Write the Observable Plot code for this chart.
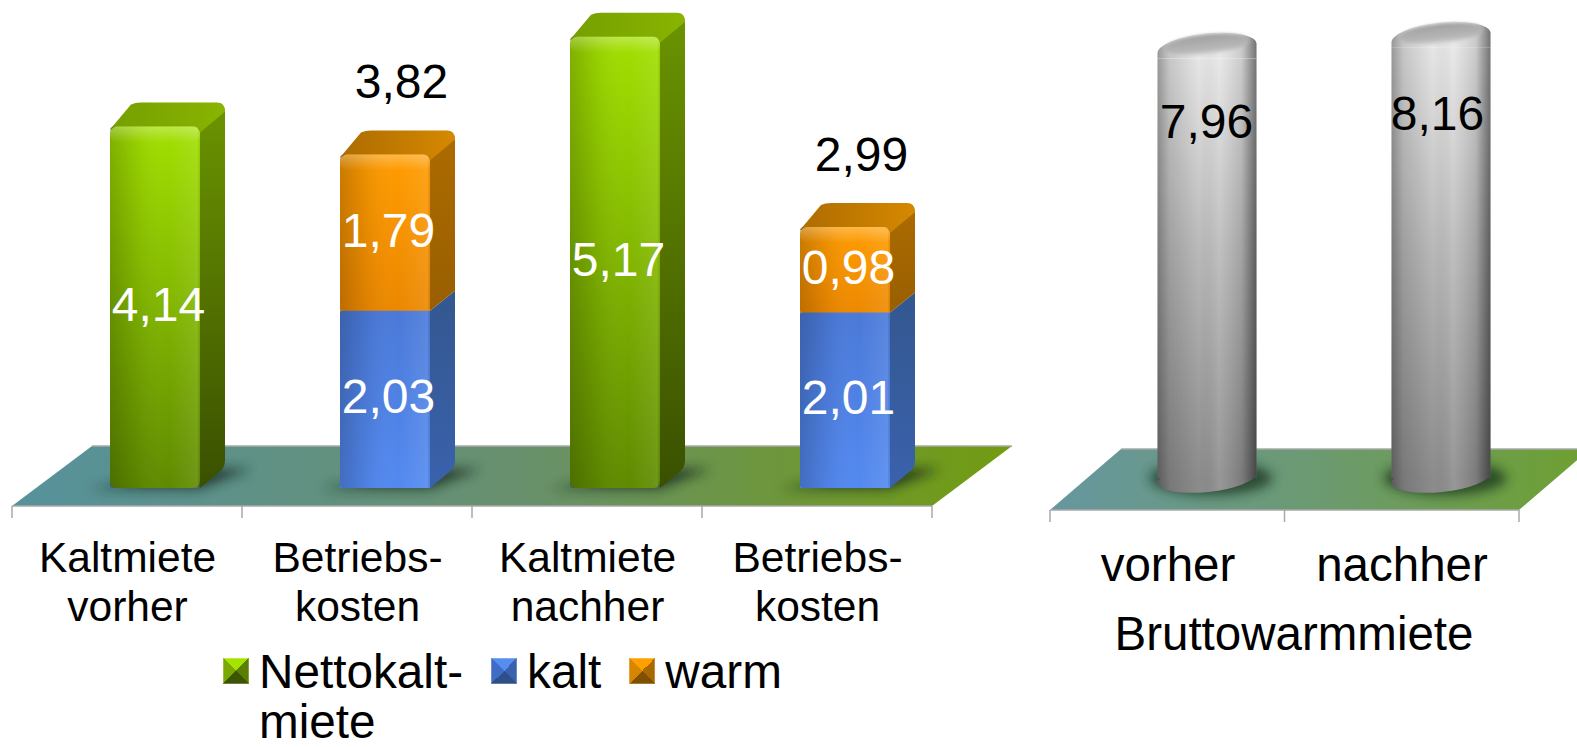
<!DOCTYPE html>
<html lang="de">
<head>
<meta charset="utf-8">
<script src="https://cdn.jsdelivr.net/npm/d3@7"></script>
<script src="https://cdn.jsdelivr.net/npm/@observablehq/plot@0.6"></script>
<style>
html,body{margin:0;padding:0;background:#fff;overflow:hidden}
#page{position:relative;width:1577px;height:747px;font-family:"Liberation Sans",Arial,sans-serif}
#page svg.chart{position:absolute;top:0;overflow:visible;background:none}
#legend{position:absolute;left:223px;top:647px;display:flex;gap:28px;font-size:47.7px;line-height:50px;color:#000}
#legend .item{display:flex;align-items:flex-start}
#legend .sw{width:26px;height:26px;margin:11px 10px 0 0;flex:none;box-shadow:inset 0 0 0 1px rgba(255,255,255,.25)}
</style>
</head>
<body>
<div id="page">
<svg width="0" height="0" style="position:absolute">
<defs id="defs"></defs>
</svg>
<div id="legend"></div>
</div>
<script>
// ---------- data ----------
const rentKeys = ["Kaltmiete vorher", "Betriebskosten vorher", "Kaltmiete nachher", "Betriebskosten nachher"];
const rentTicks = ["Kaltmiete\nvorher", "Betriebs-\nkosten", "Kaltmiete\nnachher", "Betriebs-\nkosten"];
const nettokaltmiete = [4.14, null, 5.17, null];
const kalt = [null, 2.03, null, 2.01];
const warm = [null, 1.79, null, 0.98];
const totals = [null, 3.82, null, 2.99];
const grossKeys = ["vorher", "nachher"];
const bruttowarmmiete = [7.96, 8.16];
const legendNames = ["Nettokalt-\nmiete", "kalt", "warm"];
const fmt = v => v.toFixed(2).replace(".", ",");

// ---------- derived rows ----------
const segs = [];
rentKeys.forEach((key, i) => {
  if (nettokaltmiete[i] != null) segs.push({key, series: "green", v: nettokaltmiete[i], y1: 0, y2: nettokaltmiete[i], top: true});
  if (kalt[i] != null) {
    segs.push({key, series: "blue", v: kalt[i], y1: 0, y2: kalt[i], top: false});
    segs.push({key, series: "orange", v: warm[i], y1: kalt[i], y2: totals[i], top: true});
  }
});
const totalRows = rentKeys.map((key, i) => ({key, v: totals[i]})).filter(d => d.v != null);
const grossRows = grossKeys.map((key, i) => ({key, v: bruttowarmmiete[i]}));

// ---------- gradients ----------
function lin(id, dir, stops) {
  const [x2, y2] = dir === "h" ? [1, 0] : dir === "d" ? [1, 1] : [0, 1];
  return `<linearGradient id="${id}" x1="0" y1="0" x2="${x2}" y2="${y2}">` +
    stops.map(([o, c, a]) => `<stop offset="${o}" stop-color="${c}"${a != null ? ` stop-opacity="${a}"` : ""}/>`).join("") +
    `</linearGradient>`;
}
document.getElementById("defs").innerHTML = [
  lin("greenFront", "v", [[0, "#a2e000"], [1, "#5f8a00"]]),
  lin("greenSide", "v", [[0, "#6b9400"], [1, "#3a5000"]]),
  lin("greenTop", "h", [[0, "#749f00"], [1, "#8ab400"]]),
  lin("blueFront", "v", [[0, "#4a79d8"], [1, "#5389f0"]]),
  lin("blueSide", "v", [[0, "#33578f"], [1, "#3a62ac"]]),
  lin("orangeFront", "v", [[0, "#ff9c00"], [1, "#ea8600"]]),
  lin("orangeSide", "v", [[0, "#ad6c00"], [1, "#985e00"]]),
  lin("orangeTop", "h", [[0, "#ad6c00"], [1, "#d68800"]]),
  lin("sheen", "h", [[0, "#000", .2], [.3, "#000", .06], [.65, "#fff", 0], [.93, "#fff", .08], [.97, "#fff", .1], [1, "#000", .05]]),
  lin("bevel", "v", [[0, "#fff", .28], [1, "#fff", 0]]),
  lin("floorA", "h", [[0, "#56929c"], [.5, "#68906e"], [1, "#729c10"]]),
  lin("floorB", "h", [[0, "#66979f"], [.5, "#6c9a70"], [1, "#6ea030"]]),
  lin("cylBody", "v", [[0, "#e6e6e6"], [.45, "#bababa"], [1, "#8c8c8c"]]),
  lin("cylSheen", "h", [[0, "#000", .34], [.12, "#000", .14], [.42, "#000", 0], [.62, "#fff", .1], [.85, "#000", .12], [1, "#000", .5]]),
  lin("cylCap", "v", [[0, "#a0a0a0"], [.75, "#b8b8b8"], [1, "#d9d9d9"]]),
  `<filter id="blur6" x="-40%" y="-80%" width="180%" height="260%"><feGaussianBlur stdDeviation="6"/></filter>`,
  `<filter id="blur2" x="-20%" y="-40%" width="140%" height="180%"><feGaussianBlur stdDeviation="1.6"/></filter>`
].join("");

const NS = "http://www.w3.org/2000/svg";
const el = (name, attrs, parent) => {
  const n = document.createElementNS(NS, name);
  for (const k in attrs) n.setAttribute(k, attrs[k]);
  if (parent) parent.appendChild(n);
  return n;
};

// floor plate and tick marks drawn from the x scale's range and the y scale's zero
function floorMark({front, depthX, depthY, fill, ticks}) {
  return (index, {x, y}) => {
    const g = el("g", {});
    const [a, b] = x.range();
    const yf = y(0) + front, yb = yf - depthY;
    el("path", {d: `M${a},${yf}L${a + depthX},${yb}L${b + depthX},${yb}L${b},${yf}Z`, fill: `url(#${fill})`}, g);
    el("path", {d: `M${a},${yf}L${b},${yf}M${a + depthX},${yb}L${b + depthX},${yb}`, stroke: "#a9a9a9", "stroke-width": 1.5, fill: "none"}, g);
    const step = (b - a) / ticks;
    for (let i = 0; i <= ticks; ++i)
      el("line", {x1: a + i * step, x2: a + i * step, y1: yf, y2: yf + 12, stroke: "#a9a9a9", "stroke-width": 1.5}, g);
    return g;
  };
}

// side and top faces of the stacked boxes
const rentDx = 28, boxDx = 25, boxDy = 20, R = 7;
function boxFaces(index, {x, y}) {
  const g = el("g", {});
  const w = x.bandwidth();
  // shadows
  for (const key of rentKeys) {
    const x0 = x(key) + rentDx, x1 = x0 + w, yb = y(0);
    el("path", {d: `M${x0 - 20},${yb + 1}L${x1},${yb + 1}L${x1 + boxDx + 26},${yb - boxDy + 1}L${x1},${yb - boxDy}Z`, fill: "#12261a", opacity: .75, filter: "url(#blur6)"}, g);
  }
  for (const s of segs) {
    const x0 = x(s.key) + rentDx, x1 = x0 + w, yt = y(s.y2), yb = y(s.y1);
    const bx = x1 + boxDx, tb = yt - boxDy - 4;
    const bottom = s.y1 === 0
      ? `L${bx},${yb - boxDy - R}Q${bx},${yb - boxDy} ${bx - R},${yb - boxDy + 5}L${x1},${yb}`
      : `L${bx},${yb - boxDy}L${x1},${yb}`;
    if (s.top) {
      el("path", {d: `M${x1},${yt}L${bx - R},${tb + 1}Q${bx},${tb + 2} ${bx},${tb + 10}${bottom}Z`, fill: `url(#${s.series}Side)`}, g);
      if (s.series !== "blue")
        el("path", {d: `M${x0},${yt + 3}L${x0 + boxDx - 4},${tb + 2}Q${x0 + boxDx},${tb} ${x0 + boxDx + 6},${tb}L${bx - 8},${tb}Q${bx},${tb} ${bx},${tb + 9}L${x1},${yt + 6}Z`, fill: `url(#${s.series}Top)`}, g);
    } else {
      el("path", {d: `M${x1},${yt}L${bx},${yt - boxDy}${bottom}Z`, fill: `url(#${s.series}Side)`}, g);
    }
  }
  return g;
}
function boxBevels(index, {x, y}) {
  const g = el("g", {});
  const w = x.bandwidth();
  for (const s of segs.filter(d => d.top)) {
    const x0 = x(s.key) + rentDx;
    el("rect", {x: x0, y: y(s.y2), width: w, height: 16, rx: R, fill: "url(#bevel)"}, g);
  }
  return g;
}

// cylinder caps and bases
const grossDx = 39.5, capRy = 14, tilt = -6, shoulder = 12;
function cylBase(index, {x, y}) {
  const g = el("g", {});
  const w = x.bandwidth();
  for (const key of grossKeys) {
    const cx = x(key) + grossDx + w / 2, cy = y(0);
    el("ellipse", {cx: cx + 4, cy: cy, rx: w / 2 + 12, ry: capRy + 3, fill: "#16301e", opacity: .75, filter: "url(#blur6)"}, g);
    for (const fill of ["#8c8c8c", "url(#cylSheen)"])
      el("ellipse", {cx, cy, rx: w / 2, ry: capRy, transform: `rotate(${tilt} ${cx} ${cy})`, fill}, g);
  }
  return g;
}
function cylCaps(index, {x, y}) {
  const g = el("g", {});
  const w = x.bandwidth();
  const rise = (w / 2) * Math.sin(-tilt * Math.PI / 180);
  for (const d of grossRows) {
    const cx = x(d.key) + grossDx + w / 2, cy = y(d.v);
    const lx = cx - w / 2, rx = cx + w / 2, ly = cy + 2 + rise, ry = cy + 2 - rise;
    // rim arc over the top, then straight down to the top of the level body, as one outline
    const outline = `M${lx},${ly}A${w / 2},${capRy + 1} ${tilt} 0 1 ${rx},${ry}L${rx},${cy + shoulder}L${lx},${cy + shoulder}Z`;
    for (const fill of ["#e6e6e6", "url(#cylSheen)"]) el("path", {d: outline, fill}, g);
    el("ellipse", {cx, cy: cy - 2, rx: w / 2 - 7, ry: capRy - 4, transform: `rotate(${tilt} ${cx} ${cy - 2})`, fill: "url(#cylCap)", filter: "url(#blur2)"}, g);
  }
  return g;
}

const sharedStyle = {fontFamily: "'Liberation Sans', Arial, sans-serif", background: "transparent", overflow: "visible"};

// ---------- left chart ----------
const seg = name => segs.filter(d => d.series === name);
const unitL = 87.3, baseL = 488;
const left = Plot.plot({
  width: 1020, height: 747, margin: 0, marginBottom: 210,
  style: {...sharedStyle, fontSize: "42.5px", color: "#000"},
  x: {type: "band", domain: rentKeys, range: [12, 932], paddingInner: 0.61, paddingOuter: 0.305, align: 0.5},
  y: {domain: [0, 5.6], range: [baseL, baseL - 5.6 * unitL], axis: null},
  marks: [
    floorMark({front: 18, depthX: 80, depthY: 60, fill: "floorA", ticks: rentKeys.length}),
    boxFaces,
    Plot.barY(seg("orange"), {x: "key", y1: "y1", y2: "y2", dx: rentDx, fill: "url(#orangeFront)", rx: R, insetBottom: -12}),
    Plot.barY(seg("blue"), {x: "key", y1: "y1", y2: "y2", dx: rentDx, fill: "url(#blueFront)"}),
    Plot.barY(seg("green"), {x: "key", y1: "y1", y2: "y2", dx: rentDx, fill: "url(#greenFront)", rx: R}),
    Plot.barY(segs, {x: "key", y1: "y1", y2: "y2", dx: rentDx, fill: "url(#sheen)", rx: 3}),
    boxBevels,
    Plot.text(segs, {x: "key", y: d => (d.y1 + d.y2) / 2, text: d => fmt(d.v), fill: "#fff", fontSize: 48, dx: rentDx + 3, dy: -2, textAnchor: "middle", lineAnchor: "middle"}),
    Plot.text(totalRows, {x: "key", y: "v", text: d => fmt(d.v), fill: "#000", fontSize: 48, dx: 44, dy: -72, textAnchor: "middle", lineAnchor: "middle"}),
    Plot.axisX({anchor: "bottom", tickSize: 0, tickPadding: 0, label: null, lineHeight: 1.15, lineWidth: Infinity,
      tickFormat: k => rentTicks[rentKeys.indexOf(k)]})
  ]
});
left.classList.add("chart");
left.style.left = "0px";
left.style.position = "absolute";
document.getElementById("page").appendChild(left);

// ---------- right chart ----------
const unitR = 54.2, baseR = 478;
const right = Plot.plot({
  width: 527, height: 747, margin: 0, marginBottom: 747 - 547,
  style: {...sharedStyle, fontSize: "47.5px", color: "#000"},
  x: {type: "band", domain: grossKeys, range: [20, 489], paddingInner: 0.578, paddingOuter: 0.289, align: 0.5},
  y: {domain: [0, 8.6], range: [baseR, baseR - 8.6 * unitR], axis: null},
  marks: [
    floorMark({front: 32, depthX: 71, depthY: 61, fill: "floorB", ticks: grossKeys.length}),
    cylBase,
    Plot.barY(grossRows, {x: "key", y: "v", dx: grossDx, fill: "url(#cylBody)", insetTop: shoulder}),
    Plot.barY(grossRows, {x: "key", y: "v", dx: grossDx, fill: "url(#cylSheen)", insetTop: shoulder}),
    cylCaps,
    Plot.text(grossRows.slice(0, 1), {x: "key", y: "v", text: d => fmt(d.v), fill: "#000", fontSize: 48, dx: grossDx - 1, dy: 76, textAnchor: "middle", lineAnchor: "middle"}),
    Plot.text(grossRows.slice(1), {x: "key", y: "v", text: d => fmt(d.v), fill: "#000", fontSize: 48, dx: grossDx - 4, dy: 78, textAnchor: "middle", lineAnchor: "middle"}),
    Plot.axisX({anchor: "bottom", tickSize: 0, tickPadding: 0, label: "Bruttowarmmiete", labelAnchor: "center", labelArrow: "none", labelOffset: 102})
  ]
});
right.classList.add("chart");
right.style.left = "1030px";
right.style.position = "absolute";
document.getElementById("page").appendChild(right);

// ---------- legend ----------
const swatchColors = [
  ["#a4e400", "#7aa800", "#3d5500", "#5a7f00"],
  ["#558df0", "#3f6cc4", "#2f4f88", "#3a62ac"],
  ["#ffa000", "#d68600", "#805000", "#a86a00"]
];
const legend = document.getElementById("legend");
legendNames.forEach((name, i) => {
  const item = document.createElement("div");
  item.className = "item";
  const sw = document.createElement("div");
  sw.className = "sw";
  const [t, l, b, r] = swatchColors[i];
  sw.style.background = `conic-gradient(from -45deg, ${t} 0 25%, ${r} 25% 50%, ${b} 50% 75%, ${l} 75% 100%)`;
  const label = document.createElement("div");
  label.innerHTML = name.replace("\n", "<br>");
  item.append(sw, label);
  legend.append(item);
});
</script>
</body>
</html>
